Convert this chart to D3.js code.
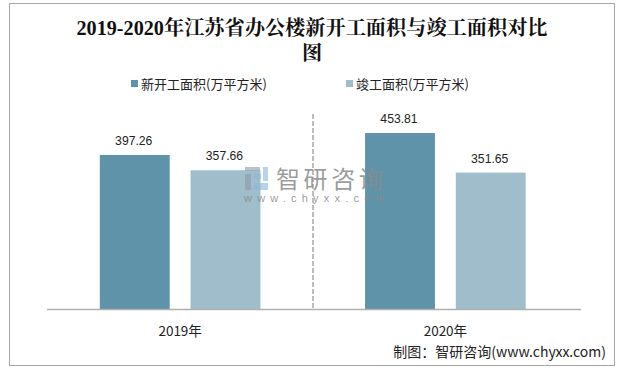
<!DOCTYPE html>
<html>
<head>
<meta charset="utf-8">
<script src="https://cdn.jsdelivr.net/npm/d3@7"></script>
<style>
  html, body { margin: 0; padding: 0; background: #fff; }
  svg { display: block; }
</style>
</head>
<body>
<div id="chart"></div>
<script>
const years = ['2019年', '2020年'];
const seriesNames = ['新开工面积(万平方米)', '竣工面积(万平方米)'];
const newStart = [397.26, 453.81];
const completed = [357.66, 351.65];
const titleLines = ['2019-2020年江苏省办公楼新开工面积与竣工面积对比', '图'];
const colors = ['#5f93a9', '#9fbdca'];

const width = 629, height = 371;
const svg = d3.select('#chart').append('svg')
  .attr('width', width).attr('height', height);

// outer frame
svg.append('rect')
  .attr('x', 9.5).attr('y', 3.5)
  .attr('width', 605).attr('height', 362)
  .attr('fill', '#fff').attr('stroke', '#a6a6a6').attr('stroke-width', 1);

const cjk = '"Noto Sans CJK SC", sans-serif';
const serif = '"Liberation Serif", "Noto Serif CJK SC", "Noto Sans CJK SC", serif';

//title
svg.selectAll('.title').data(titleLines).enter().append('text')
  .attr('class', 'title')
  .attr('x', 312).attr('y', (d, i) => 35 + i * 25)
  .attr('text-anchor', 'middle')
  .attr('font-family', serif).attr('font-weight', 'bold')
  .attr('font-size', 20.2).attr('fill', '#111')
  .text(d => d);

//legend
const legendX = [131, 346];
seriesNames.forEach((name, i) => {
  svg.append('rect')
    .attr('x', legendX[i]).attr('y', 80)
    .attr('width', 7).attr('height', 7)
    .attr('fill', colors[i]);
  svg.append('text')
    .attr('x', legendX[i] + 10).attr('y', 89)
    .attr('font-family', cjk).attr('font-size', 13).attr('fill', '#222')
    .text(name);
});

// scales
const plotLeft = 47.5, plotRight = 578, baseY = 309;
const x0 = d3.scaleBand().domain(years).range([plotLeft, plotRight]);
const x1 = d3.scaleBand().domain([0, 1]).range([0, x0.bandwidth()]).paddingInner(0.23).paddingOuter(0.5765);
const y = d3.scaleLinear().domain([0, 453.81]).range([baseY, 133]);

// divider
svg.append('line')
  .attr('x1', 313).attr('x2', 313)
  .attr('y1', 114).attr('y2', baseY)
  .attr('stroke', '#bdbdbd').attr('stroke-width', 2).attr('stroke-dasharray', '5 2');

// bars + labels
[newStart, completed].forEach((vals, s) => {
  svg.selectAll('.bar' + s).data(vals).enter().append('rect')
    .attr('class', 'bar' + s)
    .attr('x', (d, i) => x0(years[i]) + x1(s))
    .attr('y', d => y(d))
    .attr('width', x1.bandwidth())
    .attr('height', d => baseY - y(d))
    .attr('fill', colors[s]);
  svg.selectAll('.lab' + s).data(vals).enter().append('text')
    .attr('class', 'lab' + s)
    .attr('x', (d, i) => x0(years[i]) + x1(s) + x1.bandwidth() / 2 - 1)
    .attr('y', d => y(d) - 10)
    .attr('text-anchor', 'middle')
    .attr('font-family', '"Liberation Sans", sans-serif').attr('font-size', 12.2).attr('fill', '#222')
    .text(d => d.toFixed(2));
});

// x axis
const axis = svg.append('g')
  .attr('transform', 'translate(0,' + baseY + ')')
  .call(d3.axisBottom(x0).tickSize(0).tickPadding(17));
axis.select('.domain').remove();
axis.selectAll('text')
  .attr('font-family', cjk).attr('font-size', 13.5).attr('fill', '#222');
svg.append('line')
  .attr('x1', 47).attr('x2', 581)
  .attr('y1', baseY + 0.5).attr('y2', baseY + 0.5)
  .attr('stroke', '#b0b0b0').attr('stroke-width', 1.5);

// watermark sits over the bars
const mark = svg.append('g');
const logoBlue = '#8ab8dc', logoGrey = '#8d98a8';
mark.append('rect').attr('x', 245).attr('y', 167).attr('width', 15).attr('height', 4)
  .attr('fill', logoGrey).attr('fill-opacity', 0.6);
mark.append('rect').attr('x', 245).attr('y', 174).attr('width', 6).attr('height', 16)
  .attr('fill', logoGrey).attr('fill-opacity', 0.6);
mark.append('rect').attr('x', 254).attr('y', 174).attr('width', 7).attr('height', 5)
  .attr('fill', logoBlue).attr('fill-opacity', 0.6);
mark.append('rect').attr('x', 254).attr('y', 183).attr('width', 14).attr('height', 7)
  .attr('fill', logoBlue).attr('fill-opacity', 0.6);
mark.append('rect').attr('x', 263).attr('y', 167).attr('width', 5).attr('height', 14)
  .attr('fill', logoBlue).attr('fill-opacity', 0.6);
mark.append('text')
  .attr('x', 276).attr('y', 188)
  .attr('font-family', cjk).attr('font-size', 24).attr('letter-spacing', 3.6)
  .attr('fill', '#8a8a8a').attr('fill-opacity', 0.85)
  .text('智研咨询');
mark.append('text')
  .attr('x', 244).attr('y', 202)
  .attr('font-family', '"Liberation Sans", sans-serif').attr('font-size', 11).attr('letter-spacing', 5.2)
  .attr('fill', '#8a8a8a').attr('fill-opacity', 0.85)
  .text('www.chyxx.com');

//source
svg.append('text')
  .attr('x', 606).attr('y', 357)
  .attr('text-anchor', 'end')
  .attr('font-family', cjk).attr('font-size', 14).attr('fill', '#222')
  .text('制图：智研咨询(www.chyxx.com)');
</script>
</body>
</html>
